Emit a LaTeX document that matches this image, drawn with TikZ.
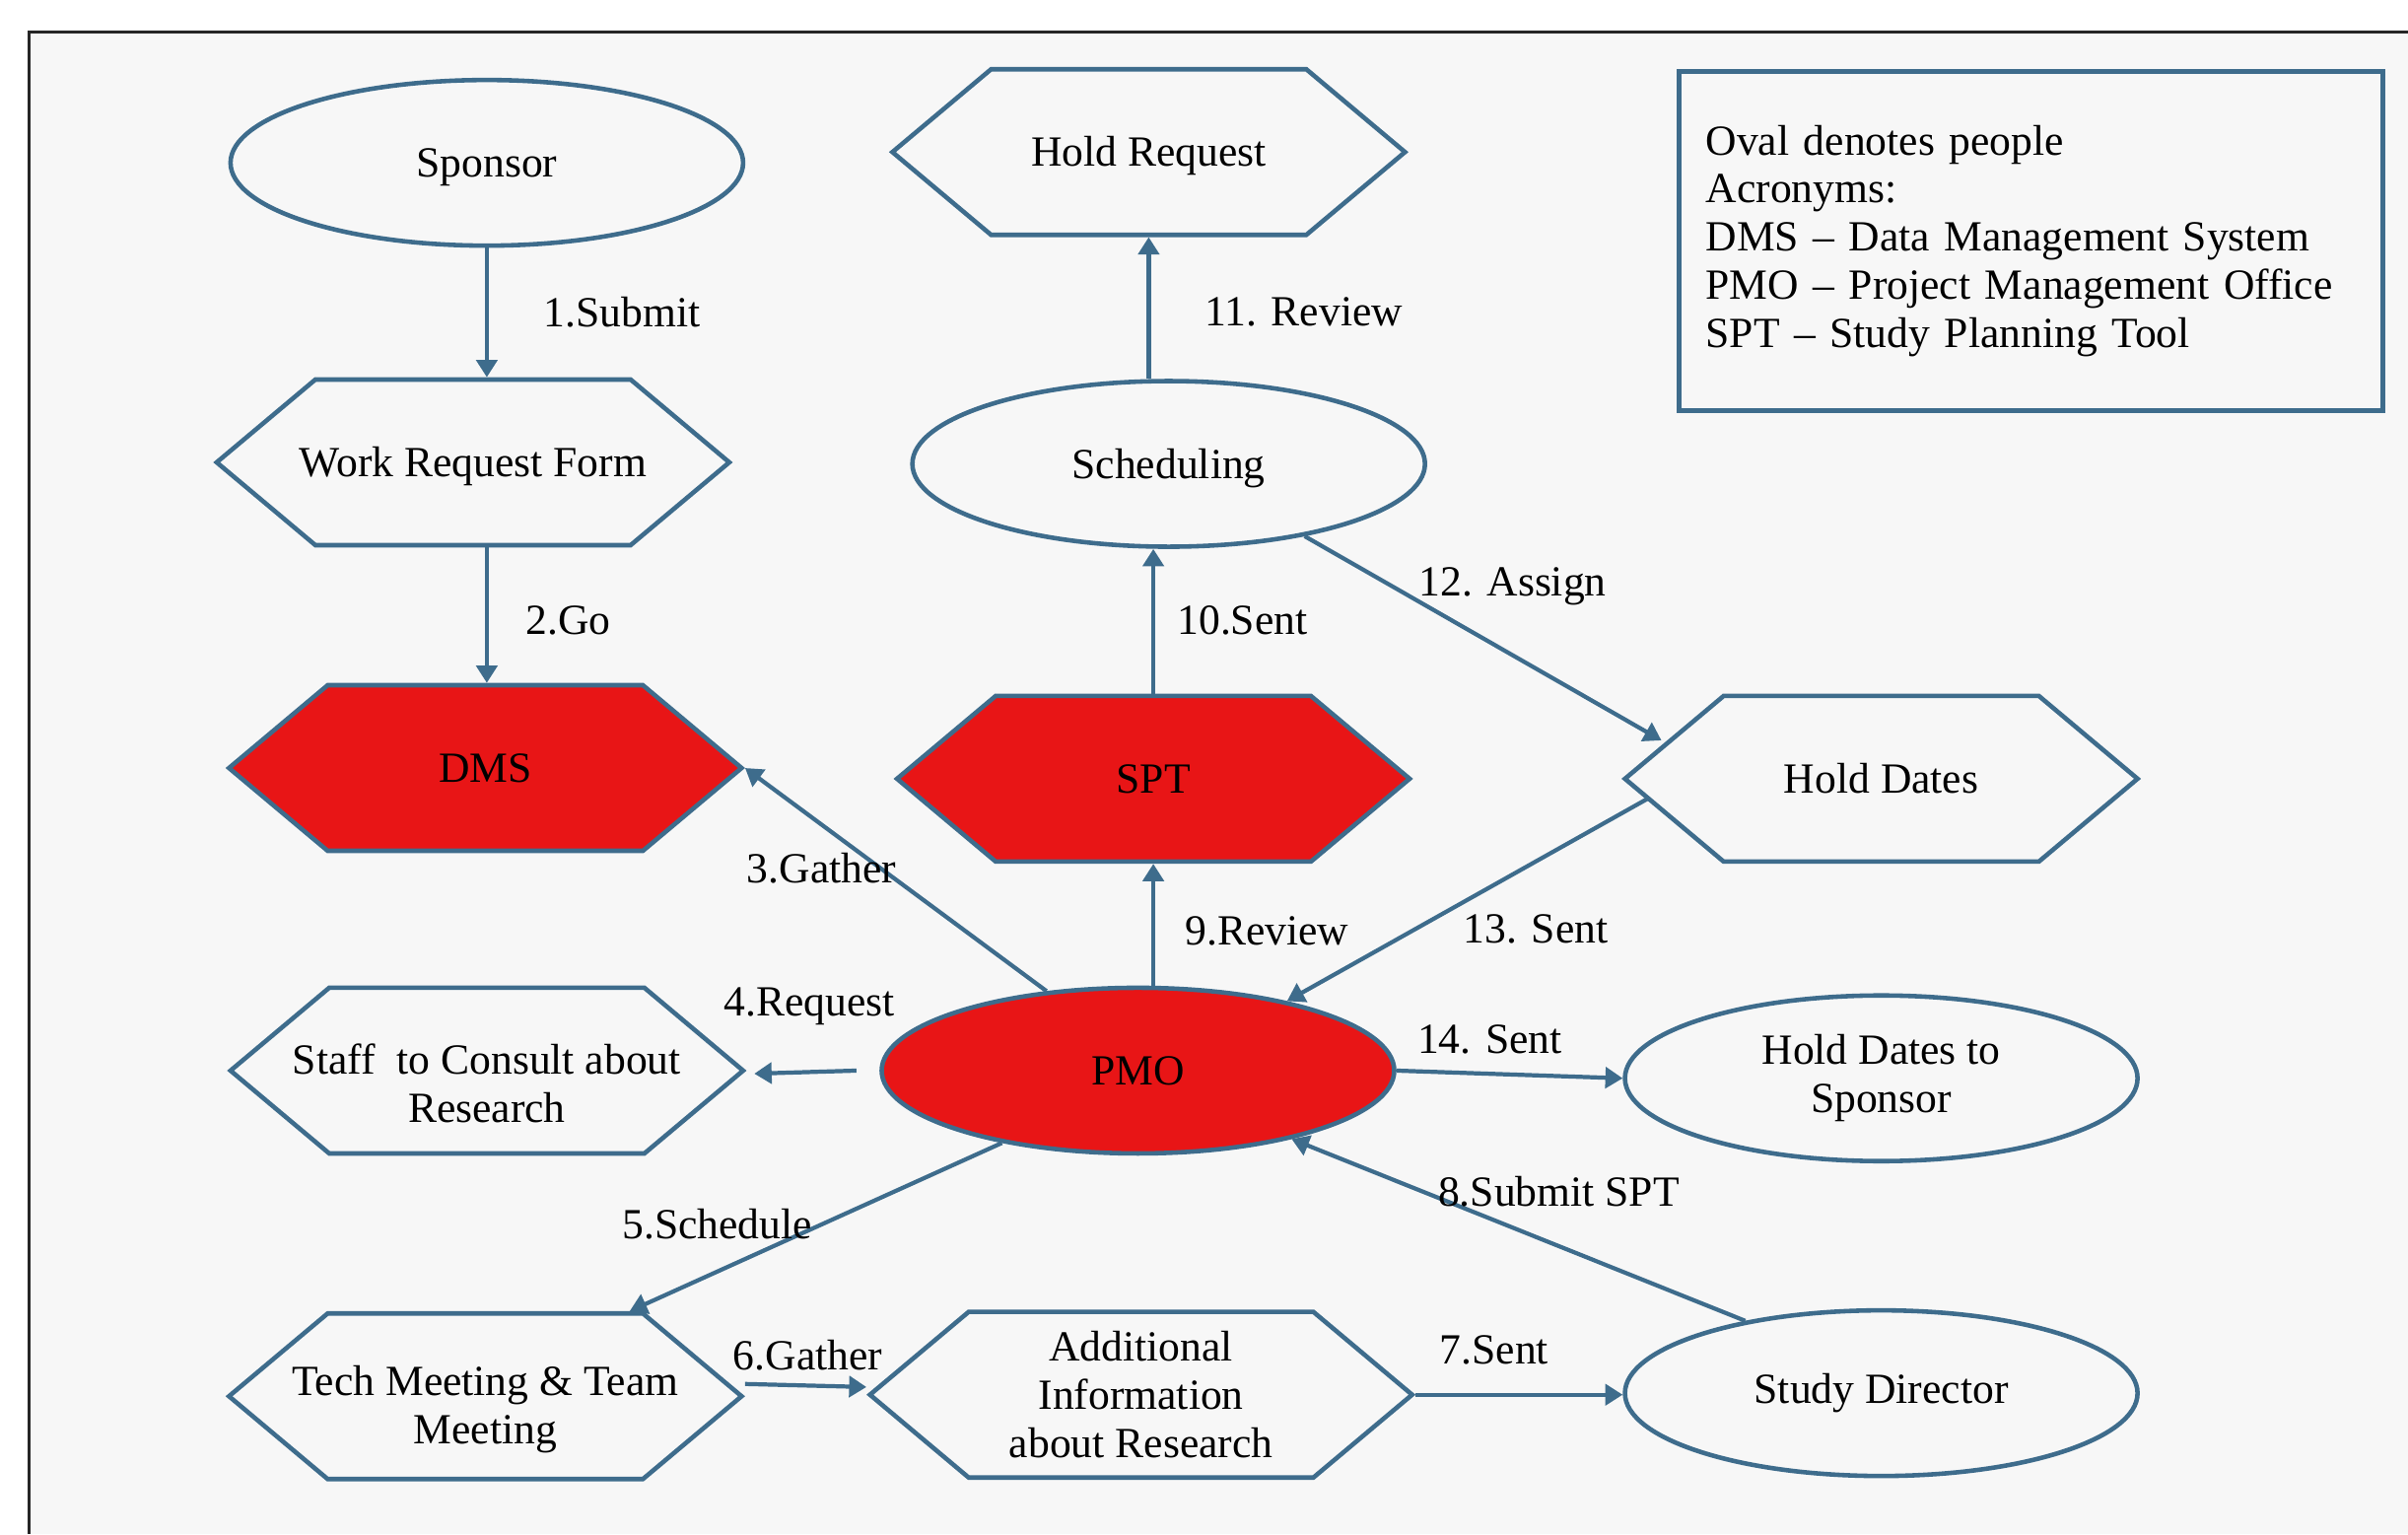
\documentclass[tikz,border=0pt]{standalone}
\usepackage{fontspec}
\setmainfont{Liberation Serif}
\usetikzlibrary{calc,positioning,arrows.meta,shapes.geometric,shapes.symbols}
\definecolor{flowblue}{RGB}{62,108,140}
\definecolor{alertred}{RGB}{232,21,22}
\definecolor{paper}{RGB}{247,247,247}

\tikzset{
  person/.style={ellipse, draw=flowblue, line width=1.3pt, minimum width=5.2cm, minimum height=1.68cm, inner sep=0pt, align=center},
  thing/.style={signal, signal to=west and east, signal pointer angle=80, draw=flowblue, line width=1.3pt, minimum width=5.2cm, minimum height=1.68cm, inner xsep=-0.5cm, inner ysep=0pt, align=center},
  hot/.style={fill=alertred},
  flow/.style={draw=flowblue, line width=1.2pt, -{Triangle[length=5pt,width=6pt]}},
  lbl/.style={inner sep=0pt}
}

\begin{document}
\begin{tikzpicture}[x=0.01558cm, y=-0.01558cm, font=\fontsize{12.4}{13.9}\selectfont]
	\useasboundingbox (0,0) rectangle (1568,999);
	\fill[paper] (19,21) rectangle (1568,999);
	\draw[line width=0.7pt, black!85] (1568,21) -- (19,21) -- (19,999);

	% people and systems
	\node[person] (sponsor) at (317,106) {\rule{0pt}{11pt}Sponsor};
	\node[thing] (wrf) at (308,301) {\rule{0pt}{11pt}Work Request Form};
	\node[thing, hot] (dms) at (316,500) {DMS};
	\node[thing] (staff) at (317,697) {\rule{0pt}{16pt}Staff\ \ to Consult about\\Research};
	\node[thing] (tech) at (316,909) {\rule{0pt}{16pt}Tech Meeting \& Team\\Meeting};
	\node[thing] (holdreq) at (748,99) {\rule{0pt}{11pt}Hold Request};
	\node[person] (sched) at (761,302) {\rule{0pt}{11pt}Scheduling};
	\node[thing, hot] (spt) at (751,507) {SPT};
	\node[person, hot] (pmo) at (741,697) {PMO};
	\node[thing, minimum width=5.5cm] (addl) at (743,908) {Additional\\Information\\about Research};
	\node[thing] (holddates) at (1225,507) {Hold Dates};
	\node[person] (hds) at (1225,702) {Hold Dates to\\Sponsor};
	\node[person] (sd) at (1225,907) {Study Director};

	\node[draw=flowblue, line width=1.3pt, anchor=north west, minimum width=7.14cm, minimum height=3.44cm, inner xsep=0.27cm, text width=6.6cm, align=left] (legend) at (1092,45)
		{Oval denotes people\\Acronyms:\\DMS -- Data Management System\\PMO -- Project Management Office\\SPT -- Study Planning Tool};

	% numbered steps
	\draw[flow] (sponsor.south) -- (sponsor.south |- wrf.north) node[lbl] at (405,203) {1.Submit};
	\draw[flow] (sponsor.south |- wrf.south) -- (sponsor.south |- dms.north) node[lbl] at (370,404) {2.Go};
	\draw[flow] (pmo.139) -- (dms.east) node[lbl] at (535,565) {3.Gather};
	\draw[flow] ($(pmo.west)+(-15,0)$) -- ($(staff.east)+(5,2)$) node[lbl] at (527,655) {4.Request};
	\draw[flow] (pmo.208) -- ($(tech.north)+(94,0)$) node[lbl] at (467,797) {5.Schedule};
	\draw[flow] ($(tech.east)+(0,-8)$) -- ($(addl.west)+(0,-5)$) node[lbl] at (526,882) {6.Gather};
	\draw[flow] (addl.east) -- (sd.west |- addl.east) node[lbl] at (973,879) {7.Sent};
	\draw[flow] (sd.152) -- (pmo.-24) node[lbl] at (1015,776) {8.Submit SPT};
	\draw[flow] (spt.south |- pmo.north) -- (spt.south) node[lbl] at (825,606) {9.Review};
	\draw[flow] (spt.north) -- (spt.north |- sched.south) node[lbl] at (809,404) {10.Sent};
	\draw[flow] (holdreq.south |- sched.north) -- (holdreq.south) node[lbl] at (849,203) {11. Review};
	\draw[flow] (sched.-28) -- ($(holddates.west)+(26,-25)$) node[lbl] at (985,382) {12. Assign};
	\draw[flow] ($(holddates.west)+(17,13)$) -- (pmo.25) node[lbl] at (1000,605) {13. Sent};
	\draw[flow] (pmo.east) -- (hds.west) node[lbl] at (970,677) {14. Sent};
\end{tikzpicture}
\end{document}
